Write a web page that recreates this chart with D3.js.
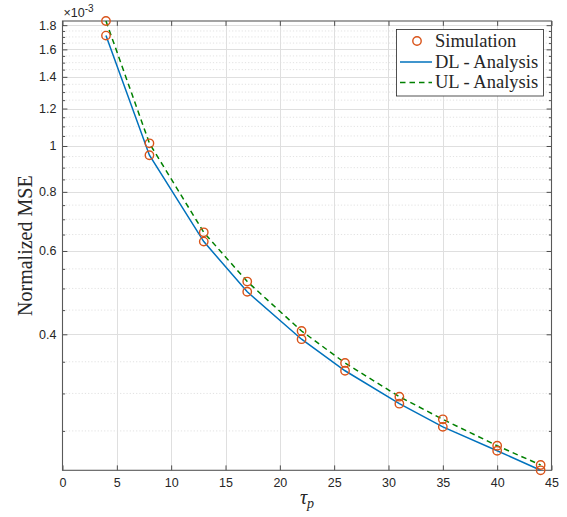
<!DOCTYPE html>
<html>
<head>
<meta charset="utf-8">
<script src="https://cdn.jsdelivr.net/npm/d3@7"></script>
<style>
  html, body { margin: 0; padding: 0; background: #fff; }
  svg { display: block; }
  .tick-label { font-family: "Liberation Sans", Arial, Helvetica, sans-serif; font-size: 12.5px; fill: #262626; }
  .serif { font-family: "Liberation Serif", "Times New Roman", serif; fill: #262626; }
</style>
</head>
<body>
<svg id="chart" width="567" height="517"></svg>
<script>
// Pilot length values and normalized MSE (in units of 1e-3)
const tauP = [4, 8, 13, 17, 22, 26, 31, 35, 40, 44];
const dlMSE = [1.711, 0.956, 0.628, 0.492, 0.3906, 0.335, 0.2854, 0.255, 0.227, 0.2064];
const ulMSE = [1.837, 1.013, 0.657, 0.517, 0.4065, 0.348, 0.2953, 0.2645, 0.2326, 0.2118];

// Axis ticks
const xTicks = [0, 5, 10, 15, 20, 25, 30, 35, 40, 45];
const yMajorTicks = [0.4, 0.6, 0.8, 1, 1.2, 1.4, 1.6, 1.8];
const yMinorTicks = [0.25, 0.3, 0.35, 0.45, 0.5, 0.55, 0.65, 0.7, 0.75, 0.85, 0.9, 0.95,
                     1.05, 1.1, 1.15, 1.25, 1.3, 1.35, 1.45, 1.5, 1.55, 1.65, 1.7, 1.75];
const yExponent = "-3";

const legendLabels = ["Simulation", "DL - Analysis", "UL - Analysis"];

const colors = { dl: "#0072BD", ul: "#008000", sim: "#D95319", axis: "#262626" };

const svg = d3.select("#chart");
const plotLeft = 62.5, plotRight = 551.5, plotTop = 21, plotBottom = 470.3;

const x = d3.scaleLinear().domain([0, 45]).range([plotLeft, plotRight]);
const yMin = d3.min(dlMSE), yMax = d3.max(ulMSE);
const y = d3.scaleLog().domain([yMin, yMax]).range([plotBottom, plotTop]);

// Grid lines
const grid = svg.append("g");
grid.selectAll(".ymin").data(yMinorTicks).join("line")
  .attr("x1", plotLeft).attr("x2", plotRight)
  .attr("y1", d => y(d)).attr("y2", d => y(d))
  .attr("stroke", "#cfcfcf").attr("stroke-width", 0.6).attr("stroke-dasharray", "1.2,2");
grid.selectAll(".ymaj").data(yMajorTicks).join("line")
  .attr("x1", plotLeft).attr("x2", plotRight)
  .attr("y1", d => Math.round(y(d)) + 0.5).attr("y2", d => Math.round(y(d)) + 0.5)
  .attr("stroke", "#dfdfdf").attr("stroke-width", 1);
grid.selectAll(".xmaj").data(xTicks.slice(1, -1)).join("line")
  .attr("y1", plotTop).attr("y2", plotBottom)
  .attr("x1", d => Math.round(x(d)) + 0.5).attr("x2", d => Math.round(x(d)) + 0.5)
  .attr("stroke", "#dfdfdf").attr("stroke-width", 1);

// Axes (box with inward ticks)
const tickLen = 4.9, minorLen = 2.6;

const xBottom = d3.axisBottom(x).tickValues(xTicks).tickSizeInner(-tickLen).tickSizeOuter(0).tickPadding(8);
const xTop = d3.axisTop(x).tickValues(xTicks).tickSizeInner(-tickLen).tickSizeOuter(0).tickFormat("");
const yLeft = d3.axisLeft(y).tickValues(yMajorTicks).tickSizeInner(-tickLen).tickSizeOuter(0).tickPadding(6)
  .tickFormat(d3.format("~g"));
const yRight = d3.axisRight(y).tickValues(yMajorTicks).tickSizeInner(-tickLen).tickSizeOuter(0).tickFormat("");
const yLeftMinor = d3.axisLeft(y).tickValues(yMinorTicks).tickSizeInner(-minorLen).tickSizeOuter(0).tickFormat("");
const yRightMinor = d3.axisRight(y).tickValues(yMinorTicks).tickSizeInner(-minorLen).tickSizeOuter(0).tickFormat("");

function styleAxis(g) {
  g.select(".domain").remove();
  g.selectAll("line").attr("stroke", colors.axis).attr("stroke-width", 0.8);
  g.selectAll("text").attr("class", "tick-label").attr("stroke", "none")
    .attr("font-family", "Liberation Sans, Arial, sans-serif").attr("font-size", "12.5px").attr("fill", "#262626");
}
svg.append("g").attr("transform", `translate(0,${plotBottom})`).call(xBottom).call(styleAxis);
svg.append("g").attr("transform", `translate(0,${plotTop})`).call(xTop).call(styleAxis);
svg.append("g").attr("transform", `translate(${plotLeft},0)`).call(yLeft).call(styleAxis);
svg.append("g").attr("transform", `translate(${plotRight},0)`).call(yRight).call(styleAxis);
svg.append("g").attr("transform", `translate(${plotLeft},0)`).call(yLeftMinor).call(styleAxis);
svg.append("g").attr("transform", `translate(${plotRight},0)`).call(yRightMinor).call(styleAxis);

// Axes box
svg.append("rect")
  .attr("x", plotLeft).attr("y", plotTop).attr("width", plotRight - plotLeft).attr("height", plotBottom - plotTop)
  .attr("fill", "none").attr("stroke", "#595959").attr("stroke-width", 1.1);

// Exponent label
const expT = svg.append("text").attr("class", "tick-label").attr("x", plotLeft + 1).attr("y", 17)
  .attr("font-size", "13px");
expT.append("tspan").text("\u00d710");
expT.append("tspan").attr("dy", -5).attr("font-size", "10px").text(yExponent);

// Analysis lines
const line = d3.line().x(d => x(d[0])).y(d => y(d[1]));
const plotG = svg.append("g");
plotG.append("path").datum(tauP.map((t, i) => [t, dlMSE[i]]))
  .attr("d", line).attr("fill", "none").attr("stroke", colors.dl).attr("stroke-width", 1.5);
plotG.append("path").datum(tauP.map((t, i) => [t, ulMSE[i]]))
  .attr("d", line).attr("fill", "none").attr("stroke", colors.ul).attr("stroke-width", 1.5)
  .attr("stroke-dasharray", "5.5,4");

// Simulation markers
const sims = tauP.map((t, i) => [t, dlMSE[i]]).concat(tauP.map((t, i) => [t, ulMSE[i]]));
plotG.selectAll("circle.sim").data(sims).join("circle")
  .attr("cx", d => x(d[0])).attr("cy", d => y(d[1])).attr("r", 4.2)
  .attr("fill", "none").attr("stroke", colors.sim).attr("stroke-width", 1.4);

// Axis titles
svg.append("text").attr("class", "serif")
  .attr("transform", `translate(32,${(plotTop + plotBottom) / 2}) rotate(-90)`)
  .attr("text-anchor", "middle").attr("font-size", "20px").text("Normalized MSE");

const xl = svg.append("text").attr("class", "serif").attr("x", (plotLeft + plotRight) / 2).attr("y", 504)
  .attr("text-anchor", "middle").attr("font-size", "20px").attr("font-style", "italic");
xl.append("tspan").text("\u03c4");
xl.append("tspan").attr("dy", 4).attr("font-size", "14px").text("p");

// Legend
const lg = svg.append("g");
lg.append("rect").attr("x", 396.5).attr("y", 29.5).attr("width", 147).attr("height", 66.5)
  .attr("fill", "#fff").attr("stroke", colors.axis).attr("stroke-width", 0.8);
const rowY = [41, 62, 82.5];
lg.append("circle").attr("cx", 417).attr("cy", rowY[0]).attr("r", 4.2)
  .attr("fill", "none").attr("stroke", colors.sim).attr("stroke-width", 1.4);
lg.append("line").attr("x1", 400).attr("x2", 432).attr("y1", rowY[1]).attr("y2", rowY[1])
  .attr("stroke", colors.dl).attr("stroke-width", 1.5);
lg.append("line").attr("x1", 400).attr("x2", 432).attr("y1", rowY[2]).attr("y2", rowY[2])
  .attr("stroke", colors.ul).attr("stroke-width", 1.5).attr("stroke-dasharray", "5.5,4");
lg.selectAll("text.lab").data(legendLabels).join("text")
  .attr("class", "serif").attr("x", 435).attr("y", (d, i) => rowY[i] + 5.5)
  .attr("font-size", "18.5px").text(d => d);
</script>
</body>
</html>
